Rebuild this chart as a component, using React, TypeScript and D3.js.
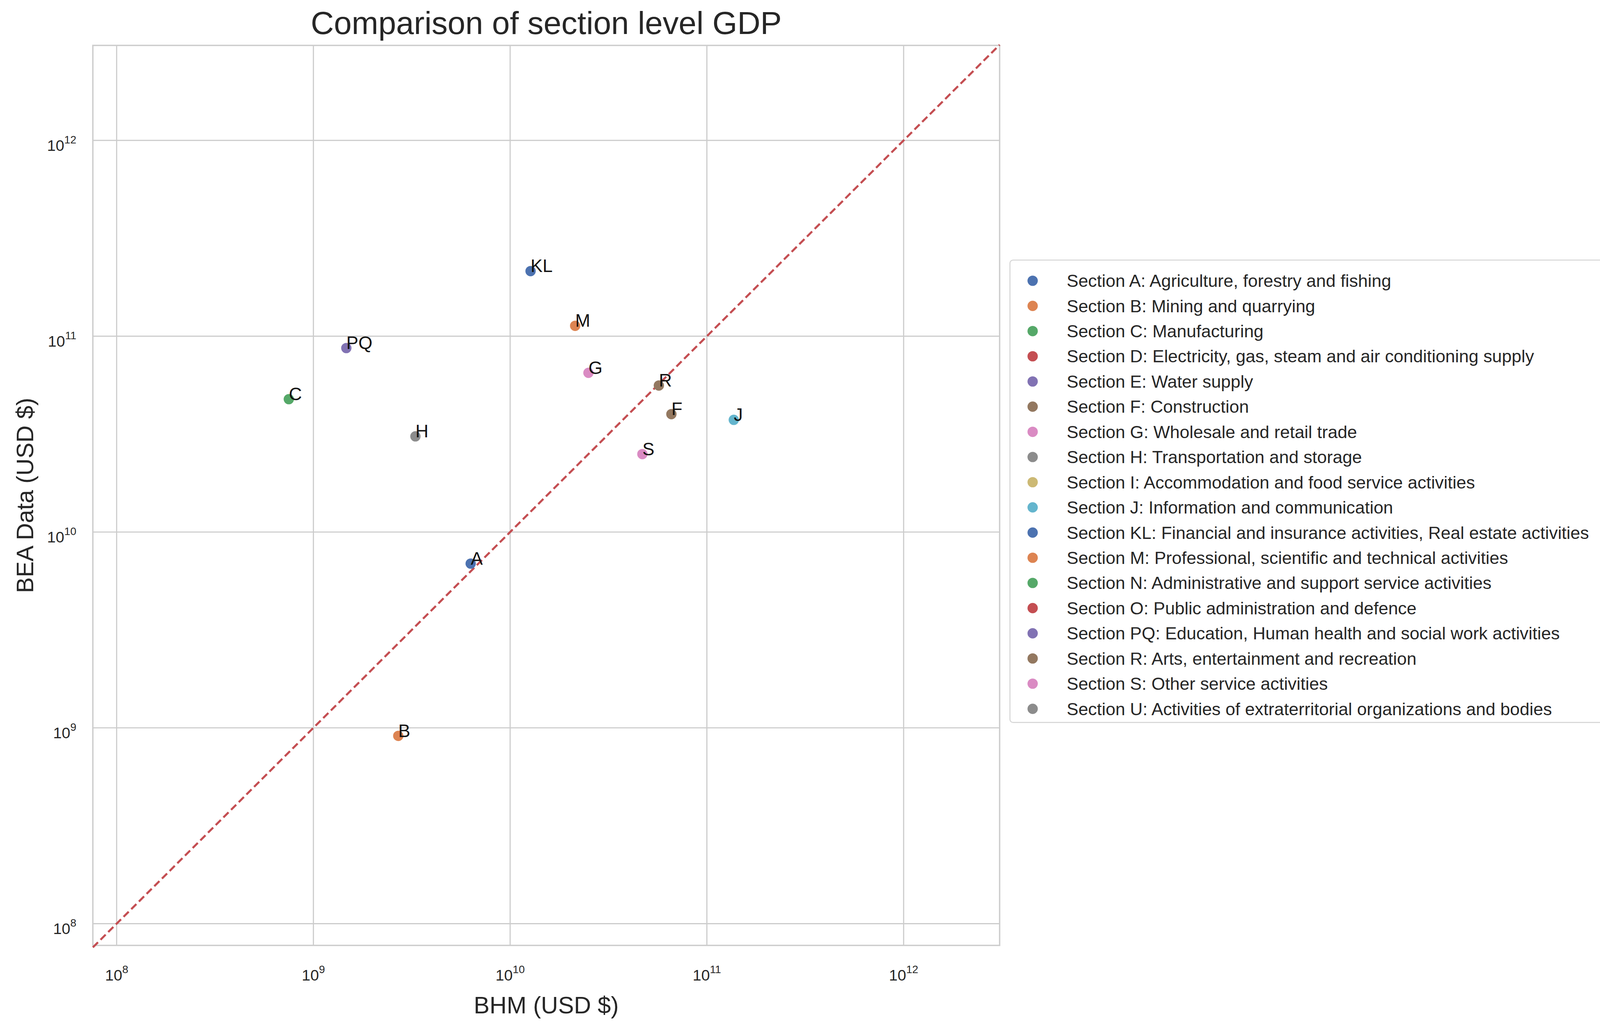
import React, { useRef, useEffect } from 'react';
import * as d3 from 'd3';

const legendLabels = [
  'Section A: Agriculture, forestry and fishing',
  'Section B: Mining and quarrying',
  'Section C: Manufacturing',
  'Section D: Electricity, gas, steam and air conditioning supply',
  'Section E: Water supply',
  'Section F: Construction',
  'Section G: Wholesale and retail trade',
  'Section H: Transportation and storage',
  'Section I: Accommodation and food service activities',
  'Section J: Information and communication',
  'Section KL: Financial and insurance activities, Real estate activities',
  'Section M: Professional, scientific and technical activities',
  'Section N: Administrative and support service activities',
  'Section O: Public administration and defence',
  'Section PQ: Education, Human health and social work activities',
  'Section R: Arts, entertainment and recreation',
  'Section S: Other service activities',
  'Section U: Activities of extraterritorial organizations and bodies',
];
const codes = ['A', 'B', 'C', 'D', 'E', 'F', 'G', 'H', 'I', 'J', 'KL', 'M', 'N', 'O', 'PQ', 'R', 'S', 'U'];
const palette = ['#4C72B0', '#DD8452', '#55A868', '#C44E52', '#8172B3', '#937860', '#DA8BC3', '#8C8C8C', '#CCB974', '#64B5CD'];

const pointCodes = ['A', 'B', 'C', 'F', 'G', 'H', 'J', 'KL', 'M', 'PQ', 'R', 'S'];
const bhm = [6.3e9, 2.7e9, 7.5e8, 6.6e10, 2.5e10, 3.3e9, 1.37e11, 1.27e10, 2.14e10, 1.47e9, 5.7e10, 4.7e10];
const bea = [6.9e9, 9.1e8, 4.77e10, 4.0e10, 6.5e10, 3.08e10, 3.74e10, 2.15e11, 1.13e11, 8.7e10, 5.6e10, 2.5e10];
const tickValues = [1e8, 1e9, 1e10, 1e11, 1e12];

const App: React.FC = () => {
  const ref = useRef<SVGSVGElement>(null);

  useEffect(() => {
    document.body.style.margin = '0';
    document.body.style.overflow = 'hidden';
    if (!ref.current) return;
    const svg = d3.select(ref.current);
    svg.selectAll('*').remove();
    const font = '"Liberation Sans", Arial, sans-serif';
    svg.style('font-family', font);

    const L = 90, R = 969, T = 44, B = 916;
    const x = d3.scaleLog().domain([10 ** 7.879, 10 ** 12.488]).range([L, R]);
    const y = d3.scaleLog().domain([10 ** 7.889, 10 ** 12.485]).range([B, T]);
    const color = (c: string) => palette[codes.indexOf(c) % palette.length];

    const grid = svg.append('g').attr('stroke', '#cccccc').attr('stroke-width', 1.1);
    tickValues.forEach(v => {
      grid.append('line').attr('x1', x(v)).attr('x2', x(v)).attr('y1', T).attr('y2', B);
      grid.append('line').attr('y1', y(v)).attr('y2', y(v)).attr('x1', L).attr('x2', R);
    });
    svg.append('rect').attr('x', L).attr('y', T).attr('width', R - L).attr('height', B - T)
      .attr('fill', 'none').attr('stroke', '#cccccc').attr('stroke-width', 1.3);

    // ticks
    tickValues.forEach(v => {
      const e = Math.round(Math.log10(v));
      const tx = svg.append('text').attr('x', x(v)).attr('y', B + 34).attr('text-anchor', 'middle')
        .attr('font-size', 15).attr('fill', '#262626');
      tx.append('tspan').text('10');
      tx.append('tspan').attr('dy', -7).attr('font-size', 10.5).text(String(e));
      const ty = svg.append('text').attr('x', L - 16).attr('y', y(v) + 10).attr('text-anchor', 'end')
        .attr('font-size', 15).attr('fill', '#262626');
      ty.append('tspan').text('10');
      ty.append('tspan').attr('dy', -7).attr('font-size', 10.5).text(String(e));
    });

    // diagonal
    const lo = 10 ** 7.879, hi = 10 ** 12.488;
    svg.append('line').attr('x1', x(lo)).attr('y1', y(lo)).attr('x2', x(hi)).attr('y2', y(hi))
      .attr('stroke', '#C44E52').attr('stroke-width', 2).attr('stroke-dasharray', '7,3.5');

    const pts = svg.append('g');
    pointCodes.forEach((c, i) => {
      pts.append('circle').attr('cx', x(bhm[i])).attr('cy', y(bea[i])).attr('r', 5).attr('fill', color(c));
      pts.append('text').attr('x', x(bhm[i])).attr('y', y(bea[i]) + 1).attr('font-size', 17.5)
        .attr('fill', '#111').text(c);
    });

    svg.append('text').attr('x', (L + R) / 2).attr('y', 33).attr('text-anchor', 'middle')
      .attr('font-size', 31).attr('fill', '#262626').text('Comparison of section level GDP');
    svg.append('text').attr('x', (L + R) / 2).attr('y', 982).attr('text-anchor', 'middle')
      .attr('font-size', 23).attr('fill', '#262626').text('BHM (USD $)');
    svg.append('text').attr('transform', `translate(32,${(T + B) / 2}) rotate(-90)`).attr('text-anchor', 'middle')
      .attr('font-size', 23).attr('fill', '#262626').text('BEA Data (USD $)');

    // legend
    const lg = svg.append('g');
    lg.append('rect').attr('x', 979).attr('y', 252).attr('width', 578).attr('height', 448).attr('rx', 3)
      .attr('fill', 'white').attr('stroke', '#d6d6d6');
    legendLabels.forEach((t, i) => {
      const yy = 272 + i * 24.4;
      lg.append('circle').attr('cx', 1001).attr('cy', yy).attr('r', 5).attr('fill', palette[i % palette.length]);
      lg.append('text').attr('x', 1034).attr('y', yy + 6).attr('font-size', 17).attr('fill', '#262626').text(t);
    });
  }, []);

  return (
    <svg ref={ref} width={4141} height={2633} viewBox="0 0 1568 997"
      style={{ position: 'absolute', left: 0, top: 0, background: 'white' }} />
  );
};

export default App;
